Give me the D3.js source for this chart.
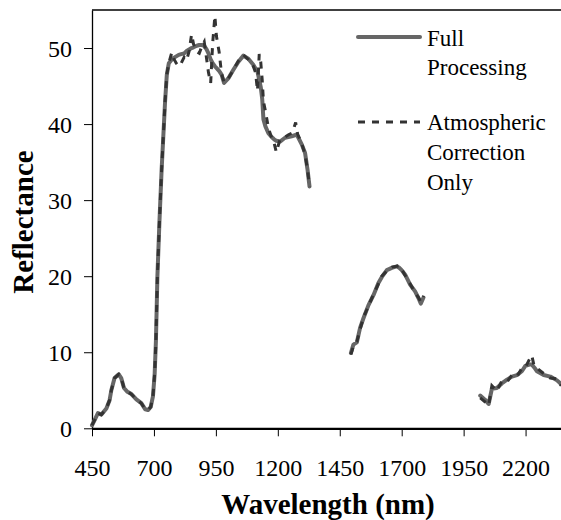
<!DOCTYPE html>
<html>
<head>
<meta charset="utf-8">
<script src="https://cdn.jsdelivr.net/npm/d3@7"></script>
<style>
  html, body { margin: 0; padding: 0; background: #fff; }
  svg { display: block; }
  text { font-family: "Liberation Serif", "Times New Roman", serif; fill: #000; }
</style>
</head>
<body>
<svg id="chart" width="561" height="520"></svg>
<script>
// ---- data (null marks the water-absorption gaps) ----
const wavelength = [
  450, 461, 474, 488, 508, 521, 528, 541, 558, 568, 579, 593, 609, 629, 649, 665, 676, 687, 696, 703,
  708, 714, 722, 731, 738, 745, 752, 760, 772, 780, 790, 800, 810, 822, 832, 842, 852, 860, 873, 883,
  893, 903, 913, 920, 929, 937, 946, 952, 963, 973, 983, 1000, 1020, 1041, 1061, 1081, 1101, 1110, 1118, 1125,
  1131, 1137, 1142, 1150, 1162, 1175, 1185, 1194, 1209, 1229, 1243, 1256, 1266, 1272, 1280, 1297, 1310, 1320, 1328,
  null,
  1495, 1505, 1519, 1532, 1546, 1566, 1586, 1606, 1620, 1640, 1660, 1680, 1690, 1700, 1714, 1734, 1754, 1768, 1777, 1788,
  null,
  2017, 2035, 2051, 2064, 2084, 2104, 2125, 2145, 2165, 2185, 2199, 2219, 2225, 2235, 2246, 2273, 2300, 2327, 2344
];
const fullProcessing = [
  0.4, 1.1, 2.0, 1.8, 2.6, 3.7, 5.0, 6.6, 7.1, 6.6, 5.3, 4.8, 4.5, 3.8, 3.3, 2.5, 2.4, 2.8, 4.2, 7.2,
  11.5, 20, 27, 34, 38.5, 43, 46.5, 48.0, 48.5, 48.7, 48.9, 49.1, 49.2, 49.3, 49.6, 49.8, 50.0, 50.1, 50.3, 50.4,
  50.4, 50.3, 49.8, 49.3, 48.5, 48.0, 47.6, 47.4, 47.0, 46.5, 45.4, 46.0, 47.1, 48.2, 49.0, 48.6, 47.8, 47.3, 46.9, 45.8,
  44.9, 43.3, 40.6, 39.7, 38.8, 38.3, 38.0, 37.8, 37.7, 38.2, 38.3, 38.4, 38.5, 38.6, 38.4, 37.3, 36.2, 34.0, 31.8,
  null,
  9.9, 11.0, 11.3, 13.2, 14.5, 16.2, 17.5, 19.1, 19.9, 20.8, 21.1, 21.3, 21.1, 20.8, 20.2, 18.9, 18.0, 17.1, 16.4, 17.2,
  null,
  4.3, 3.8, 3.2, 5.2, 5.3, 5.9, 6.4, 6.8, 7.0, 7.5, 8.2, 8.4, 8.4, 8.0, 7.5, 7.0, 6.8, 6.3, 5.8
];
const atmosphericOnly = [
  0.4, 1.1, 2.0, 1.8, 2.6, 3.7, 5.0, 6.6, 7.1, 6.6, 5.3, 4.8, 4.5, 3.8, 3.3, 2.5, 2.4, 2.8, 4.2, 7.2,
  11.5, 20, 27, 34, 38.5, 43, 46.5, 48.0, 49.4, 48.6, 48.0, 47.6, 48.0, 48.8, 48.4, 49.6, 51.8, 50.5, 49.5, 49.3,
  50.2, 50.8, 48.5, 46.8, 45.4, 50.6, 54.2, 51.6, 49.5, 46.6, 45.5, 46.0, 47.1, 48.3, 49.1, 48.5, 47.6, 46.8, 44.4, 49.2,
  48.2, 45.8, 43.0, 41.7, 39.5, 38.2, 37.5, 36.3, 38.0, 38.3, 38.6, 38.8, 39.6, 40.2, 38.7, 37.4, 36.0, 34.0, 31.8,
  null,
  9.7, 10.8, 11.4, 13.0, 14.6, 16.1, 17.6, 19.0, 20.0, 20.7, 21.2, 21.3, 21.4, 20.9, 20.1, 19.0, 17.8, 17.2, 16.6, 17.4,
  null,
  4.0, 3.5, 3.0, 5.6, 4.9, 6.2, 6.1, 7.0, 6.8, 7.9, 8.0, 9.3, 9.6, 8.1, 7.9, 7.2, 6.6, 6.5, 5.6
];
const xTicks = [450, 700, 950, 1200, 1450, 1700, 1950, 2200];
const yTicks = [0, 10, 20, 30, 40, 50];
const seriesNames = ["Full Processing", "Atmospheric Correction Only"];

// ---- chart ----
const svg = d3.select("#chart");
const mLeft = 92, mRight = 561, mTop = 10, mBottom = 428.3;
const serif = "Liberation Serif, Times New Roman, serif";

const x = d3.scaleLinear().domain([450, 2343]).range([mLeft, mRight]);
const y = d3.scaleLinear().domain([0, 55]).range([mBottom, mTop]);

const makePoints = vals => wavelength.map((w, i) => ({ w, v: vals[i] }));
const line = d3.line()
  .defined(d => d.w != null && d.v != null)
  .x(d => x(d.w))
  .y(d => y(d.v));

// top border
svg.append("line")
  .attr("x1", mLeft).attr("x2", mRight).attr("y1", mTop).attr("y2", mTop)
  .attr("stroke", "#000").attr("stroke-width", 1.5);

// y axis
const yAxis = svg.append("g")
  .attr("transform", `translate(${mLeft},0)`)
  .call(d3.axisLeft(y).tickValues(yTicks).tickSize(8).tickSizeOuter(0).tickPadding(12));
yAxis.select(".domain").attr("stroke", "#000").attr("stroke-width", 1.3);
yAxis.selectAll(".tick line").attr("stroke", "#000").attr("stroke-width", 1);
yAxis.selectAll(".tick text")
  .attr("font-family", serif)
  .attr("font-size", 24).attr("fill", "#000").attr("dy", "0.36em");

// x axis
const xAxis = svg.append("g")
  .attr("transform", `translate(0,${mBottom})`)
  .call(d3.axisBottom(x).tickValues(xTicks).tickSize(8).tickSizeOuter(0).tickFormat(d3.format("d")));
xAxis.select(".domain").attr("stroke", "#000").attr("stroke-width", 2.2);
xAxis.selectAll(".tick line").attr("stroke", "#000").attr("stroke-width", 1);
xAxis.selectAll(".tick text")
  .attr("font-family", serif)
  .attr("font-size", 24).attr("fill", "#000").attr("y", 48).attr("dy", 0);

// series
svg.append("path")
  .datum(makePoints(fullProcessing))
  .attr("d", line)
  .attr("fill", "none").attr("stroke", "#666").attr("stroke-width", 4)
  .attr("stroke-linejoin", "round").attr("stroke-linecap", "round");
svg.append("path")
  .datum(makePoints(atmosphericOnly))
  .attr("d", line)
  .attr("fill", "none").attr("stroke", "#333").attr("stroke-width", 3)
  .attr("stroke-dasharray", "7,7");

// axis titles
svg.append("text")
  .attr("x", 328).attr("y", 514).attr("text-anchor", "middle")
  .attr("font-family", serif)
  .attr("font-size", 29).attr("font-weight", "bold")
  .text("Wavelength (nm)");
svg.append("text")
  .attr("transform", "translate(33,222) rotate(-90)")
  .attr("text-anchor", "middle")
  .attr("font-family", serif)
  .attr("font-size", 29).attr("font-weight", "bold")
  .text("Reflectance");

// legend
const lg = svg.append("g");
lg.append("line").attr("x1", 358).attr("x2", 420).attr("y1", 37).attr("y2", 37)
  .attr("stroke", "#666").attr("stroke-width", 4).attr("stroke-linecap", "round");
lg.append("line").attr("x1", 358).attr("x2", 420).attr("y1", 122).attr("y2", 122)
  .attr("stroke", "#333").attr("stroke-width", 3).attr("stroke-dasharray", "7,7");
const legendLines = [
  { t: "Full", y: 46 }, { t: "Processing", y: 75 },
  { t: "Atmospheric", y: 130 }, { t: "Correction", y: 160 }, { t: "Only", y: 190 }
];
lg.selectAll("text.leg").data(legendLines).join("text")
  .attr("class", "leg")
  .attr("x", 427).attr("y", d => d.y)
  .attr("font-family", serif)
  .attr("font-size", 23)
  .text(d => d.t);
</script>
</body>
</html>
